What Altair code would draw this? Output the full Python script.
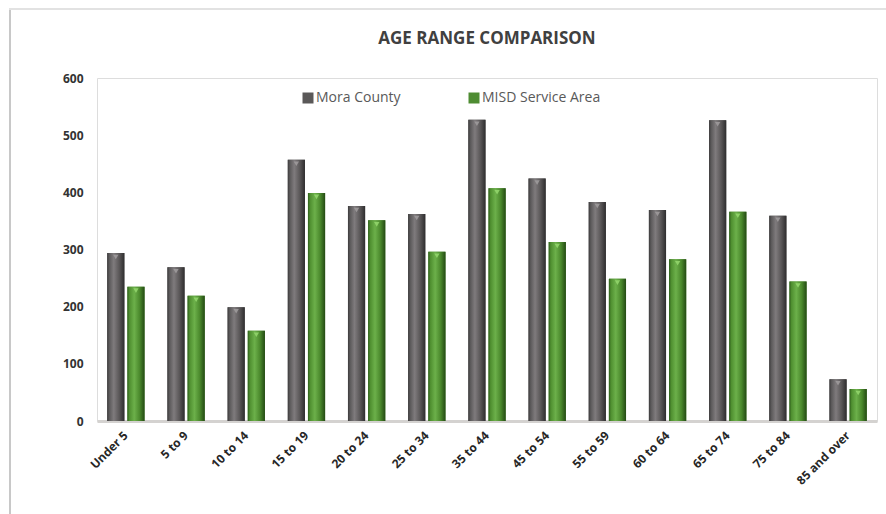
import altair as alt
import pandas as pd

# Age groups and head counts for the two areas
age_groups = ["Under 5", "5 to 9", "10 to 14", "15 to 19", "20 to 24", "25 to 34",
              "35 to 44", "45 to 54", "55 to 59", "60 to 64", "65 to 74", "75 to 84",
              "85 and over"]
mora_county = [294, 269, 199, 457, 376, 362, 527, 424, 383, 369, 526, 359, 73]
misd_service = [235, 219, 158, 399, 351, 296, 407, 313, 249, 283, 366, 244, 56]
series_names = ["Mora County", "MISD Service Area"]

df = pd.DataFrame({
    "age": age_groups * 2,
    "series": [series_names[0]] * len(age_groups) + [series_names[1]] * len(age_groups),
    "value": mora_county + misd_service,
})

FONT = "Open Sans"

x_enc = alt.X("age:N", sort=age_groups, title=None,
              scale=alt.Scale(paddingInner=0.38, paddingOuter=0.17),
              axis=alt.Axis(labelAngle=-45, ticks=False, domainColor="#d4d2d0",
                            domainWidth=3, labelFont=FONT, labelFontSize=12,
                            labelFontWeight="bold", labelColor="#262626",
                            labelAlign="right", labelBaseline="middle",
                            labelPadding=12))
xo_enc = alt.XOffset("series:N", sort=series_names,
                     scale=alt.Scale(domain=series_names, paddingInner=0.15, paddingOuter=0))
y_enc = alt.Y("value:Q", title=None,
              scale=alt.Scale(domain=[0, 600], nice=False),
              axis=alt.Axis(values=[0, 100, 200, 300, 400, 500, 600], grid=False,
                            domain=False, ticks=False, labelFont=FONT, labelFontSize=12,
                            labelFontWeight="bold", labelColor="#333333", labelPadding=14))

base = alt.Chart(df)

# Solid bars carry the colour legend
legend_bars = base.mark_bar().encode(
    x=x_enc, xOffset=xo_enc, y=y_enc,
    color=alt.Color("series:N", sort=series_names,
                    scale=alt.Scale(domain=series_names, range=["#5a5858", "#4e8c32"]),
                    legend=alt.Legend(title=None, orient="none", direction="horizontal",
                                      legendX=204, legendY=13, symbolType="square",
                                      symbolSize=121, symbolStrokeWidth=0,
                                      symbolOpacity=1, labelFont=FONT, labelFontSize=14,
                                      labelColor="#595959", labelOffset=1,
                                      columnPadding=66, padding=0)),
)


def shaded(name, stops):
    grad = alt.LinearGradient(
        gradient="linear", x1=0, x2=1, y1=0, y2=0,
        stops=[alt.GradientStop(color=c, offset=o) for o, c in stops])
    return base.transform_filter(alt.datum.series == name).mark_bar(color=grad).encode(
        x=x_enc, xOffset=xo_enc, y=y_enc)


gray_bars = shaded("Mora County", [(0, "#3c3b3c"), (0.12, "#5b595a"), (0.38, "#7f7b7d"),
                                   (0.7, "#5a5758"), (1, "#2e2d2e")])
green_bars = shaded("MISD Service Area", [(0, "#2f5e1c"), (0.12, "#4f8f30"), (0.4, "#6cb04a"),
                                          (0.72, "#4a882c"), (1, "#244a14")])


def notch(name, col):
    return base.transform_filter(alt.datum.series == name).mark_point(
        shape="triangle-down", filled=True, size=28, opacity=0.85, color=col, yOffset=4
    ).encode(x=x_enc, xOffset=xo_enc, y=y_enc)


gray_notch = notch("Mora County", "#a19d9f")
green_notch = notch("MISD Service Area", "#95d86e")

# Thin frame around the whole figure
frame_left = alt.Chart().mark_rule(color="#c8c8c8", strokeWidth=2).encode(
    x=alt.value(-87), y=alt.value(-68), y2=alt.value(436))
frame_top = alt.Chart().mark_rule(color="#e2e2e2", strokeWidth=2).encode(
    x=alt.value(-88), x2=alt.value(789), y=alt.value(-69))

chart = alt.layer(
    legend_bars, gray_bars, green_bars, gray_notch, green_notch, frame_left, frame_top
).properties(
    width=780, height=343,
    title=alt.TitleParams("AGE RANGE COMPARISON", font=FONT, fontSize=17, fontWeight="bold",
                          color="#404040", anchor="middle", offset=-40),
    padding={"left": 97, "top": 78, "right": 9, "bottom": 93},
    autosize=alt.AutoSizeParams(type="none"),
).configure_view(stroke=None).configure(background="white")

chart.save("out.html", embed_options={"renderer": "svg", "actions": False})
